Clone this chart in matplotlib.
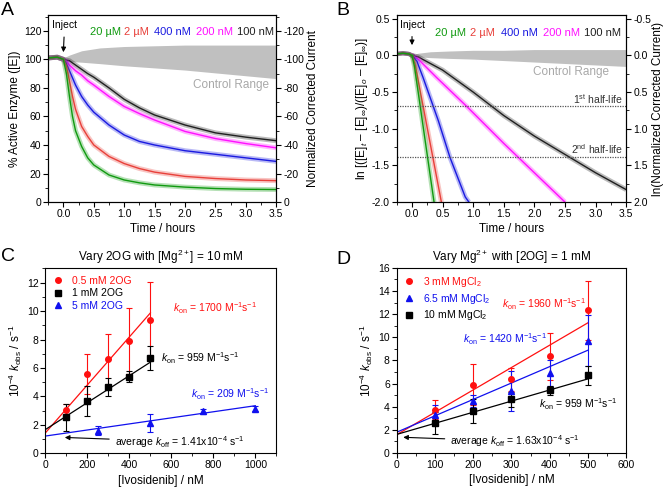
import numpy as np
import matplotlib
matplotlib.use("Agg")
import matplotlib.pyplot as plt
from matplotlib.ticker import MultipleLocator
from matplotlib.lines import Line2D

plt.rcParams['font.family'] = ['Liberation Sans', 'DejaVu Sans']
plt.rcParams['mathtext.fontset'] = 'custom'
plt.rcParams['mathtext.rm'] = 'Liberation Sans'
plt.rcParams['mathtext.it'] = 'Liberation Sans:italic'
plt.rcParams['axes.unicode_minus'] = False
plt.rcParams['font.size'] = 7.5
plt.rcParams['axes.linewidth'] = 0.8

# ---- panel A : % active enzyme vs time ----
t_a = [-0.25, -0.1, 0.0, 0.05, 0.1, 0.15, 0.2, 0.3, 0.4, 0.5, 0.75, 1.0, 1.25, 1.5, 2.0, 2.5, 3.0, 3.5]
a_20uM = [101, 101.5, 100, 90, 74, 60, 50, 39, 31, 26, 19, 15.5, 13.5, 12, 10.5, 9.5, 9, 8.8]
a_2uM = [101, 101.5, 100, 95, 85, 74, 65, 53, 46, 40, 32, 27, 23.5, 21, 18, 16.5, 15.5, 15]
a_400nM = [101, 101.5, 100, 97, 92, 87, 82, 74, 68, 63, 54, 47, 42.5, 40, 36, 33.5, 31, 28.5]
a_200nM = [101, 101.5, 100, 98.5, 96, 94, 92, 89, 85, 82, 74, 67, 62, 57.5, 49.5, 44.5, 41, 38]
a_100nM = [101, 101.5, 100, 99.5, 99, 97.5, 96, 93, 90, 87.5, 80, 72, 66, 61, 54, 48.5, 45.5, 43]

t_ctrl = [0, 0.1, 0.3, 0.6, 1.0, 1.5, 2.0, 2.5, 3.0, 3.5]
ctrl_hi = [101, 103, 106, 108, 109, 109.5, 110, 110, 110, 110]
ctrl_lo = [99, 98.5, 98, 97, 95.5, 94, 92.5, 90.5, 88.5, 86.5]

# ---- panel B : log plot ----
t_pre = [-0.25, -0.15, -0.05, 0.0]
b_pre = [0.02, 0.03, 0.02, 0.0]
tb_20uM = [0, 0.04, 0.36]
b_20uM = [0, -0.15, -2.0]
tb_2uM = [0, 0.05, 0.48]
b_2uM = [0, -0.12, -2.0]
tb_400nM = [0, 0.08, 0.18, 0.43, 0.62, 0.87, 0.93]
b_400nM = [0, -0.08, -0.3, -0.89, -1.39, -1.93, -2.0]
tb_200nM = [0, 0.1, 0.4, 0.9, 1.5, 2.0, 2.5]
b_200nM = [0, -0.05, -0.3, -0.7, -1.2, -1.6, -2.0]
tb_100nM = [0, 0.1, 0.5, 1.0, 1.5, 2.0, 2.5, 3.0, 3.5]
b_100nM = [0, -0.02, -0.2, -0.5, -0.82, -1.1, -1.35, -1.6, -1.83]
ctrlb_hi = [0.01, 0.03, 0.05, 0.06, 0.07, 0.07, 0.08, 0.08, 0.08, 0.08]
ctrlb_lo = [-0.01, -0.02, -0.03, -0.04, -0.05, -0.07, -0.09, -0.11, -0.13, -0.15]

conc_labels = ['20 µM', '2 µM', '400 nM', '200 nM', '100 nM']
conc_colors = ['#109a10', '#e8403a', '#1a1ae0', '#ff10ff', '#202020']

# ---- panel C ----
xc = [100, 200, 300, 400, 500]
c_05 = [3.05, 5.55, 6.6, 7.9, 9.35]
c_05_err = [0.45, 1.4, 1.8, 2.3, 2.7]
c_1 = [2.55, 3.65, 4.65, 5.4, 6.7]
c_1_err = [0.95, 1.05, 0.65, 0.38, 0.85]
xc_5 = [250, 500, 750, 1000]
c_5 = [1.6, 2.15, 2.95, 3.15]
c_5_err = [0.3, 0.65, 0.15, 0.15]
fitc_x = [0, 500]
fitc_05 = [1.45, 9.87]
fitc_1 = [1.68, 6.41]
fitc_5_x = [0, 1000]
fitc_5 = [1.22, 3.35]

# ---- panel D ----
xd = [100, 200, 300, 400, 500]
d_3 = [3.75, 5.9, 6.35, 8.35, 12.35]
d_3_err = [0.85, 1.8, 1.0, 2.05, 2.55]
d_65 = [3.3, 4.5, 5.35, 6.9, 9.7]
d_65_err = [0.85, 0.5, 1.7, 1.1, 2.2]
d_10 = [2.55, 3.65, 4.65, 5.4, 6.7]
d_10_err = [0.95, 1.05, 0.65, 0.38, 0.85]
fitd_x = [0, 500]
fitd_3 = [1.58, 11.25]
fitd_65 = [1.79, 8.88]
fitd_10 = [1.6, 6.4]

RED = '#ff1010'
BLUE = '#1010ee'

fig = plt.figure(figsize=(6.69, 4.87), dpi=100)
axA = fig.add_axes([0.072, 0.585, 0.341, 0.384])
axB = fig.add_axes([0.593, 0.585, 0.343, 0.384])
axC = fig.add_axes([0.068, 0.069, 0.345, 0.380])
axD = fig.add_axes([0.593, 0.070, 0.343, 0.380])


def style(ax):
    ax.tick_params(which='both', direction='out', top=False, right=False)
    ax.tick_params(which='major', length=3.5, width=0.8, labelsize=7.5, pad=1.5)
    ax.tick_params(which='minor', length=2, width=0.6)


def style_right(ax):
    ax.tick_params(which='both', direction='out')
    ax.tick_params(which='major', length=3.5, width=0.8, labelsize=7.5, pad=1.5)
    ax.tick_params(which='minor', length=2, width=0.6)


ann_arrow = dict(arrowstyle='-|>', color='k', lw=0.8, mutation_scale=7, shrinkA=3, shrinkB=0)

# panel A
axA.fill_between(t_ctrl, ctrl_lo, ctrl_hi, color='#c0c0c0', lw=0)
a_series = [a_100nM, a_200nM, a_400nM, a_2uM, a_20uM]
for ys, c in zip(a_series, conc_colors[::-1]):
    axA.plot(t_a, ys, color=c, lw=3.5, alpha=0.3, solid_capstyle='butt')
    axA.plot(t_a, ys, color=c, lw=1.0)
axA.set_xlim(-0.25, 3.5)
axA.set_ylim(0, 131)
axA.xaxis.set_major_locator(MultipleLocator(0.5))
axA.xaxis.set_minor_locator(MultipleLocator(0.25))
axA.yaxis.set_major_locator(MultipleLocator(20))
axA.yaxis.set_minor_locator(MultipleLocator(10))
axA.xaxis.set_major_formatter(plt.FormatStrFormatter('%.1f'))
axA.set_xlabel('Time / hours', fontsize=8.5, labelpad=3)
axA.set_ylabel('% Active Enzyme ([E])', fontsize=8.5, labelpad=2)
style(axA)
axA2 = axA.twinx()
axA2.set_ylim(0, -131)
axA2.yaxis.set_major_locator(MultipleLocator(20))
axA2.yaxis.set_minor_locator(MultipleLocator(10))
style_right(axA2)
axA2.set_ylabel('Normalized Corrected Current', fontsize=8.5, labelpad=2)
axA.annotate('Inject', xy=(0, 105), xytext=(0.02, 124), ha='center', va='center', fontsize=7.5,
             arrowprops=ann_arrow)
xs_lab = [0.44, 1.0, 1.49, 2.18, 2.86]
for x, lab, c in zip(xs_lab, conc_labels, conc_colors):
    axA.text(x, 119, lab, color=c, fontsize=8, va='center')
axA.text(2.76, 82, 'Control Range', color='#a8a8a8', fontsize=8.5, ha='center', va='center')

# panel B
axB.fill_between(t_ctrl, ctrlb_lo, ctrlb_hi, color='#c0c0c0', lw=0)
b_series = [(tb_100nM, b_100nM), (tb_200nM, b_200nM), (tb_400nM, b_400nM), (tb_2uM, b_2uM), (tb_20uM, b_20uM)]
for (tt, ys), c in zip(b_series, conc_colors[::-1]):
    axB.plot(t_pre, b_pre, color=c, lw=3, alpha=0.3)
    axB.plot(t_pre, b_pre, color=c, lw=1.0)
    axB.plot(tt, ys, color=c, lw=3.5, alpha=0.3, solid_capstyle='butt')
    axB.plot(tt, ys, color=c, lw=1.0)
for hl in [-0.693, -1.386]:
    axB.axhline(hl, color='#555555', lw=0.9, ls=(0, (1, 1)))
axB.set_xlim(-0.25, 3.5)
axB.set_ylim(-2.0, 0.55)
axB.xaxis.set_major_locator(MultipleLocator(0.5))
axB.xaxis.set_minor_locator(MultipleLocator(0.25))
axB.yaxis.set_major_locator(MultipleLocator(0.5))
axB.yaxis.set_minor_locator(MultipleLocator(0.25))
axB.xaxis.set_major_formatter(plt.FormatStrFormatter('%.1f'))
axB.yaxis.set_major_formatter(plt.FormatStrFormatter('%.1f'))
axB.set_xlabel('Time / hours', fontsize=8.5, labelpad=3)
axB.set_ylabel(r'ln [([E]$_t$ – [E]$_\infty$)/([E]$_o$ – [E]$_\infty$)]', fontsize=8.5, labelpad=1)
style(axB)
axB2 = axB.twinx()
axB2.set_ylim(2.0, -0.55)
axB2.yaxis.set_major_locator(MultipleLocator(0.5))
axB2.yaxis.set_minor_locator(MultipleLocator(0.25))
axB2.yaxis.set_major_formatter(plt.FormatStrFormatter('%.1f'))
style_right(axB2)
axB2.set_ylabel('ln(Normalized Corrected Current)', fontsize=8.5, labelpad=1)
axB.annotate('Inject', xy=(0, 0.14), xytext=(0, 0.42), ha='center', va='center', fontsize=7.5,
             arrowprops=ann_arrow)
xs_labb = [0.37, 0.94, 1.45, 2.14, 2.81]
for x, lab, c in zip(xs_labb, conc_labels, conc_colors):
    axB.text(x, 0.30, lab, color=c, fontsize=8, va='center')
axB.text(2.59, -0.22, 'Control Range', color='#a8a8a8', fontsize=8.5, ha='center', va='center')
axB.text(3.45, -0.6, r'1$^{\rm st}$ half-life', fontsize=7.5, ha='right', va='center', color='#333333')
axB.text(3.45, -1.28, r'2$^{\rm nd}$ half-life', fontsize=7.5, ha='right', va='center', color='#333333')

# panel C
ekw = dict(capsize=2.5, elinewidth=0.8, capthick=0.8, markersize=4, ls='none')
axC.plot(fitc_x, fitc_05, color=RED, lw=0.9)
axC.plot(fitc_x, fitc_1, color='k', lw=0.9)
axC.plot(fitc_5_x, fitc_5, color=BLUE, lw=0.9)
axC.errorbar(xc, c_05, yerr=c_05_err, fmt='o', color=RED, **ekw)
axC.errorbar(xc, c_1, yerr=c_1_err, fmt='s', color='k', **ekw)
axC.errorbar(xc_5, c_5, yerr=c_5_err, fmt='^', color=BLUE, **ekw)
axC.set_xlim(0, 1100)
axC.set_ylim(0, 13)
axC.xaxis.set_major_locator(MultipleLocator(200))
axC.xaxis.set_minor_locator(MultipleLocator(100))
axC.yaxis.set_major_locator(MultipleLocator(2))
axC.yaxis.set_minor_locator(MultipleLocator(1))
axC.set_xlabel('[Ivosidenib] / nM', fontsize=8.5, labelpad=3)
axC.set_ylabel(r'10$^{-4}$ $k_{\rm obs}$ / s$^{-1}$', fontsize=8.5, labelpad=2)
axC.set_title(r'Vary 2OG with [Mg$^{2+}$] = 10 mM', fontsize=8.5, pad=5)
style(axC)
hC = [Line2D([], [], marker=m, ls='none', color=c, markersize=4) for m, c in [('o', RED), ('s', 'k'), ('^', BLUE)]]
legC = axC.legend(hC, ['0.5 mM 2OG', '1 mM 2OG', '5 mM 2OG'], loc='upper left', frameon=False, fontsize=7.5,
                  handletextpad=0.8, handlelength=1.0, borderaxespad=0.3, labelspacing=0.25)
for txt, c in zip(legC.get_texts(), [RED, 'k', BLUE]):
    txt.set_color(c)
axC.text(607, 10.18, r'$k_{\rm on}$ = 1700 M$^{-1}$s$^{-1}$', color=RED, fontsize=7.5, va='center')
axC.text(551, 6.67, r'$k_{\rm on}$ = 959 M$^{-1}$s$^{-1}$', color='k', fontsize=7.5, va='center')
axC.text(694, 4.16, r'$k_{\rm on}$ = 209 M$^{-1}$s$^{-1}$', color=BLUE, fontsize=7.5, va='center')
axC.annotate(r'average $k_{\rm off}$ = 1.41x10$^{-4}$ s$^{-1}$', xy=(92, 1.12), xytext=(330, 0.82),
             fontsize=7.5, va='center', arrowprops=dict(ann_arrow, shrinkA=2))

# panel D
axD.plot(fitd_x, fitd_3, color=RED, lw=0.9)
axD.plot(fitd_x, fitd_65, color=BLUE, lw=0.9)
axD.plot(fitd_x, fitd_10, color='k', lw=0.9)
axD.errorbar(xd, d_3, yerr=d_3_err, fmt='o', color=RED, **ekw)
axD.errorbar(xd, d_65, yerr=d_65_err, fmt='^', color=BLUE, **ekw)
axD.errorbar(xd, d_10, yerr=d_10_err, fmt='s', color='k', **ekw)
axD.set_xlim(0, 600)
axD.set_ylim(0, 16)
axD.xaxis.set_major_locator(MultipleLocator(100))
axD.xaxis.set_minor_locator(MultipleLocator(50))
axD.yaxis.set_major_locator(MultipleLocator(2))
axD.yaxis.set_minor_locator(MultipleLocator(1))
axD.set_xlabel('[Ivosidenib] / nM', fontsize=8.5, labelpad=3)
axD.set_ylabel(r'10$^{-4}$ $k_{\rm obs}$ / s$^{-1}$', fontsize=8.5, labelpad=2)
axD.set_title(r'Vary Mg$^{2+}$ with [2OG] = 1 mM', fontsize=8.5, pad=5)
style(axD)
hD = [Line2D([], [], marker=m, ls='none', color=c, markersize=4) for m, c in [('o', RED), ('^', BLUE), ('s', 'k')]]
legD = axD.legend(hD, [r'3 mM MgCl$_2$', r'6.5 mM MgCl$_2$', r'10 mM MgCl$_2$'], loc='upper left',
                  frameon=False, fontsize=7.5, handletextpad=0.8, handlelength=1.0,
                  borderaxespad=0.3, labelspacing=0.25)
for txt, c in zip(legD.get_texts(), [RED, BLUE, 'k']):
    txt.set_color(c)
axD.text(275, 12.83, r'$k_{\rm on}$ = 1960 M$^{-1}$s$^{-1}$', color=RED, fontsize=7.5, va='center')
axD.text(174, 9.8, r'$k_{\rm on}$ = 1420 M$^{-1}$s$^{-1}$', color=BLUE, fontsize=7.5, va='center')
axD.text(372, 4.18, r'$k_{\rm on}$ = 959 M$^{-1}$s$^{-1}$', color='k', fontsize=7.5, va='center')
axD.annotate(r'average $k_{\rm off}$ = 1.63x10$^{-4}$ s$^{-1}$', xy=(17, 1.35), xytext=(140, 1.0),
             fontsize=7.5, va='center', arrowprops=dict(ann_arrow, shrinkA=2))

for lab, x, y in [('A', 0.002, 0.995), ('B', 0.503, 0.995), ('C', 0.002, 0.49), ('D', 0.503, 0.485)]:
    fig.text(x, y, lab, fontsize=14, va='top', ha='left')

fig.savefig('out.png', dpi=100)
